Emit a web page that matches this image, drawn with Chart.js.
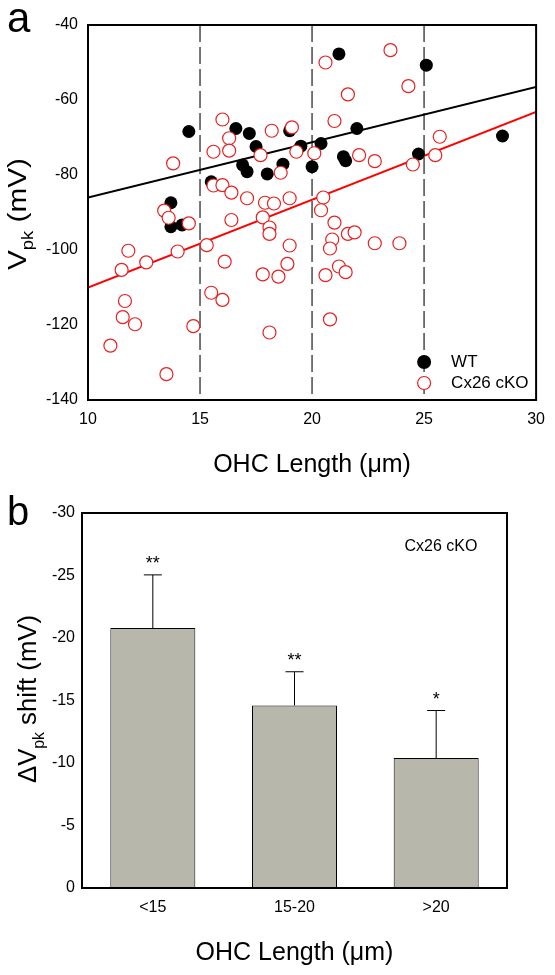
<!DOCTYPE html>
<html>
<head>
<meta charset="utf-8">
<script src="https://cdn.jsdelivr.net/npm/chart.js@4.4.0/dist/chart.umd.min.js"></script>
<style>
  body { margin: 0; background: #fff; }
  #wrap { position: relative; width: 555px; height: 975px; }
  canvas { position: absolute; left: 0; }
  #scatter { top: 0; }
  #bars { top: 480px; }
</style>
</head>
<body>
<div id="wrap">
  <canvas id="scatter" width="555" height="480"></canvas>
  <canvas id="bars" width="555" height="495"></canvas>
</div>
<script>
// panel a : OHC length (um) vs Vpk (mV)
let wtLength = [14.5, 16.6, 17.2, 17.5, 16.9, 17.1, 18.0, 18.7, 19.0, 19.5, 20.0, 13.7, 15.5, 21.2, 25.1, 22.0, 20.4, 21.4, 21.5, 24.75, 28.5, 13.7, 14.2];
let wtVpk = [-68.4, -67.6, -68.9, -72.4, -77.3, -79.1, -79.7, -77.1, -68.2, -72.3, -77.8, -87.4, -81.8, -47.7, -50.7, -67.6, -71.6, -75.1, -76.2, -74.4, -69.6, -93.8, -93.3];

let koLength = [13.8, 16.0, 16.3, 15.6, 16.3, 18.2, 19.1, 17.7, 19.3, 20.1, 18.6, 15.6, 16.0, 16.4, 17.1, 17.9, 18.3, 19.0, 13.4, 13.6, 14.5, 11.8, 12.6, 11.5, 14.0, 15.3, 16.1, 11.65, 11.55, 12.1, 14.7, 15.5, 16.0, 11.0, 13.5, 16.4, 17.8, 18.1, 18.1, 19.0, 18.9, 17.8, 18.5, 18.1, 20.6, 23.5, 21.6, 24.3, 21.0, 22.1, 22.8, 24.5, 25.5, 25.7, 20.5, 20.4, 21.0, 21.6, 21.9, 20.9, 20.8, 22.8, 23.9, 21.2, 21.5, 20.6, 20.8];
let koVpk = [-76.9, -65.2, -70.2, -73.8, -73.5, -68.2, -67.3, -74.7, -73.8, -74.2, -79.4, -82.8, -82.7, -84.7, -86.2, -87.4, -87.6, -86.2, -89.5, -91.4, -92.9, -100.2, -103.3, -105.3, -100.4, -98.7, -103.1, -113.6, -117.9, -119.8, -120.3, -111.4, -113.3, -125.5, -133.1, -92.0, -91.3, -94.0, -95.7, -98.8, -103.7, -106.5, -107.1, -122.0, -50.0, -46.7, -58.5, -56.3, -65.6, -74.7, -76.3, -77.2, -74.7, -69.8, -86.0, -89.4, -92.7, -95.7, -95.3, -97.2, -99.6, -98.2, -98.2, -104.4, -105.9, -106.7, -118.5];

// linear fits, ends at x = 10 and x = 30
let fitX = [10, 30];
let wtFit = [-86.0, -56.5];
let koFit = [-110.0, -63.2];

let dividers = [15, 20, 25];
let xTicks = [10, 15, 20, 25, 30];
let yTicks = [-140, -120, -100, -80, -60, -40];

// panel b : Vpk shift by length group
let groups = ['<15', '15-20', '>20'];
let shift = [-20.8, -14.6, -10.4];
let sem = [4.25, 2.7, 3.8];
let stars = ['**', '**', '*'];

const FONT = '"Liberation Sans", Arial, Helvetica, sans-serif';
Chart.defaults.font.family = FONT;
Chart.defaults.color = '#000';
Chart.defaults.animation = false;

function toPoints(xs, ys) {
  return xs.map((x, i) => ({x: x, y: ys[i]}));
}

// box round the plot area
const frame = {
  id: 'frame',
  afterDraw(chart) {
    let a = chart.chartArea, ctx = chart.ctx;
    ctx.save();
    ctx.strokeStyle = '#000';
    ctx.lineWidth = 2;
    ctx.strokeRect(a.left, a.top, a.right - a.left, a.bottom - a.top);
    ctx.restore();
  }
};

// rotated axis title with subscript: [before, sub, after]
function drawYTitle(ctx, bx, cy, parts, size, length) {
  let big = size + 'px ' + FONT;
  let small = Math.round(size * 0.6) + 'px ' + FONT;
  ctx.save();
  ctx.font = big;
  let w1 = ctx.measureText(parts[0]).width;
  let w3 = ctx.measureText(parts[2]).width;
  ctx.font = small;
  let w2 = ctx.measureText(parts[1]).width;
  let total = w1 + w2 + w3;
  ctx.translate(bx, cy);
  ctx.rotate(-Math.PI / 2);
  ctx.scale(length / total, 1);
  ctx.fillStyle = '#000';
  ctx.textBaseline = 'alphabetic';
  ctx.textAlign = 'left';
  let x = -total / 2;
  ctx.font = big;
  ctx.fillText(parts[0], x, 0);
  x += w1;
  ctx.font = small;
  ctx.fillText(parts[1], x, size * 0.3);
  x += w2;
  ctx.font = big;
  ctx.fillText(parts[2], x, 0);
  ctx.restore();
}

const scatterExtras = {
  id: 'scatterExtras',
  beforeDatasetsDraw(chart) {
    let ctx = chart.ctx, a = chart.chartArea, xs = chart.scales.x;
    ctx.save();
    ctx.strokeStyle = '#4a4a4a';
    ctx.lineWidth = 1.5;
    ctx.setLineDash([17, 5]);
    dividers.forEach(v => {
      let px = xs.getPixelForValue(v);
      ctx.beginPath();
      ctx.moveTo(px, a.top);
      ctx.lineTo(px, a.bottom);
      ctx.stroke();
    });
    ctx.restore();
  },
  afterDraw(chart) {
    let ctx = chart.ctx, a = chart.chartArea;
    // legend
    let lx = a.right - 112;
    ctx.save();
    ctx.beginPath();
    ctx.arc(lx, a.bottom - 38, 7, 0, Math.PI * 2);
    ctx.fillStyle = '#000';
    ctx.fill();
    ctx.beginPath();
    ctx.arc(lx, a.bottom - 17, 6.5, 0, Math.PI * 2);
    ctx.fillStyle = '#fff';
    ctx.fill();
    ctx.strokeStyle = '#e82020';
    ctx.lineWidth = 1.2;
    ctx.stroke();
    ctx.fillStyle = '#000';
    ctx.font = '17px ' + FONT;
    ctx.textBaseline = 'middle';
    ctx.fillText('WT', lx + 27, a.bottom - 38);
    ctx.fillText('Cx26 cKO', lx + 27, a.bottom - 17);
    // panel letter
    ctx.font = '42px ' + FONT;
    ctx.textBaseline = 'alphabetic';
    ctx.fillText('a', 7, 32);
    ctx.restore();
    drawYTitle(ctx, 25.5, 214, ['V', 'pk', ' (mV)'], 26, 112);
  }
};

new Chart(document.getElementById('scatter'), {
  type: 'scatter',
  data: {
    datasets: [
      {
        label: 'Cx26 cKO',
        data: toPoints(koLength, koVpk),
        pointRadius: 6.5,
        pointBackgroundColor: '#fff',
        pointBorderColor: '#e82020',
        pointBorderWidth: 1.2,
        order: 0
      },
      {
        label: 'WT',
        data: toPoints(wtLength, wtVpk),
        pointRadius: 6.5,
        pointBackgroundColor: '#000',
        pointBorderColor: '#000',
        pointBorderWidth: 0,
        order: 1
      },
      {
        type: 'line',
        label: 'WT fit',
        data: toPoints(fitX, wtFit),
        borderColor: '#000',
        borderWidth: 2,
        pointRadius: 0,
        order: 2
      },
      {
        type: 'line',
        label: 'cKO fit',
        data: toPoints(fitX, koFit),
        borderColor: '#ff0000',
        borderWidth: 2,
        pointRadius: 0,
        order: 2
      }
    ]
  },
  options: {
    responsive: false,
    layout: { padding: { left: 0, top: 25, right: 18, bottom: 0 } },
    plugins: { legend: { display: false }, tooltip: { enabled: false } },
    scales: {
      x: {
        type: 'linear',
        min: 10, max: 30,
        afterBuildTicks: s => { s.ticks = xTicks.map(v => ({value: v})); },
        grid: { display: false, drawTicks: false },
        border: { display: false },
        ticks: { font: { size: 16 }, padding: 10, maxRotation: 0 },
        title: { display: true, text: 'OHC Length (\u03bcm)', font: { size: 25 }, padding: { top: 0, bottom: 0 } },
        afterFit: s => { s.height = 80; }
      },
      y: {
        min: -140, max: -40,
        afterBuildTicks: s => { s.ticks = yTicks.map(v => ({value: v})); },
        grid: { display: false, drawTicks: false },
        border: { display: false },
        ticks: { font: { size: 16 }, padding: 10 },
        afterFit: s => { s.width = 88; }
      }
    }
  },
  plugins: [frame, scatterExtras]
});

// error bars, stars and labels for panel b
const barExtras = {
  id: 'barExtras',
  afterDatasetsDraw(chart) {
    let ctx = chart.ctx, ys = chart.scales.y;
    let bars = chart.getDatasetMeta(0).data;
    ctx.save();
    ctx.strokeStyle = '#000';
    ctx.lineWidth = 1;
    bars.forEach((bar, i) => {
      let top = ys.getPixelForValue(shift[i]);
      let end = ys.getPixelForValue(shift[i] - sem[i]);
      ctx.beginPath();
      ctx.moveTo(bar.x, top);
      ctx.lineTo(bar.x, end);
      ctx.moveTo(bar.x - 9, end);
      ctx.lineTo(bar.x + 9, end);
      ctx.stroke();
      ctx.fillStyle = '#000';
      ctx.font = '18px ' + FONT;
      ctx.textAlign = 'center';
      ctx.textBaseline = 'alphabetic';
      ctx.fillText(stars[i], bar.x, end - 6);
    });
    ctx.restore();
  },
  afterDraw(chart) {
    let ctx = chart.ctx, a = chart.chartArea;
    ctx.save();
    ctx.fillStyle = '#000';
    ctx.font = '16px ' + FONT;
    ctx.textAlign = 'center';
    ctx.textBaseline = 'middle';
    ctx.fillText('Cx26 cKO', a.right - 66, a.top + 34);
    ctx.textAlign = 'left';
    ctx.textBaseline = 'alphabetic';
    ctx.font = '40px ' + FONT;
    ctx.fillText('b', 7, 45);
    ctx.restore();
    drawYTitle(ctx, 36, 219, ['\u0394V', 'pk', ' shift (mV)'], 26, 168);
  }
};

new Chart(document.getElementById('bars'), {
  type: 'bar',
  data: {
    labels: groups,
    datasets: [{
      label: 'Cx26 cKO',
      data: shift,
      backgroundColor: '#b7b7ab',
      borderColor: '#000',
      borderWidth: 1,
      borderSkipped: 'start',
      barPercentage: 0.6,
      categoryPercentage: 1.0
    }]
  },
  options: {
    responsive: false,
    layout: { padding: { left: 0, top: 33, right: 48, bottom: 0 } },
    plugins: { legend: { display: false }, tooltip: { enabled: false } },
    scales: {
      x: {
        grid: { display: false, drawTicks: false },
        border: { display: false },
        ticks: { font: { size: 16 }, padding: 10, maxRotation: 0 },
        title: { display: true, text: 'OHC Length (\u03bcm)', font: { size: 25 }, padding: { top: 0, bottom: 7 } },
        afterFit: s => { s.height = 87; }
      },
      y: {
        reverse: true,
        min: -30, max: 0,
        grid: { display: false, drawTicks: false },
        border: { display: false },
        ticks: { stepSize: 5, font: { size: 16 }, padding: 7 },
        afterFit: s => { s.width = 82; }
      }
    }
  },
  plugins: [frame, barExtras]
});
</script>
</body>
</html>
